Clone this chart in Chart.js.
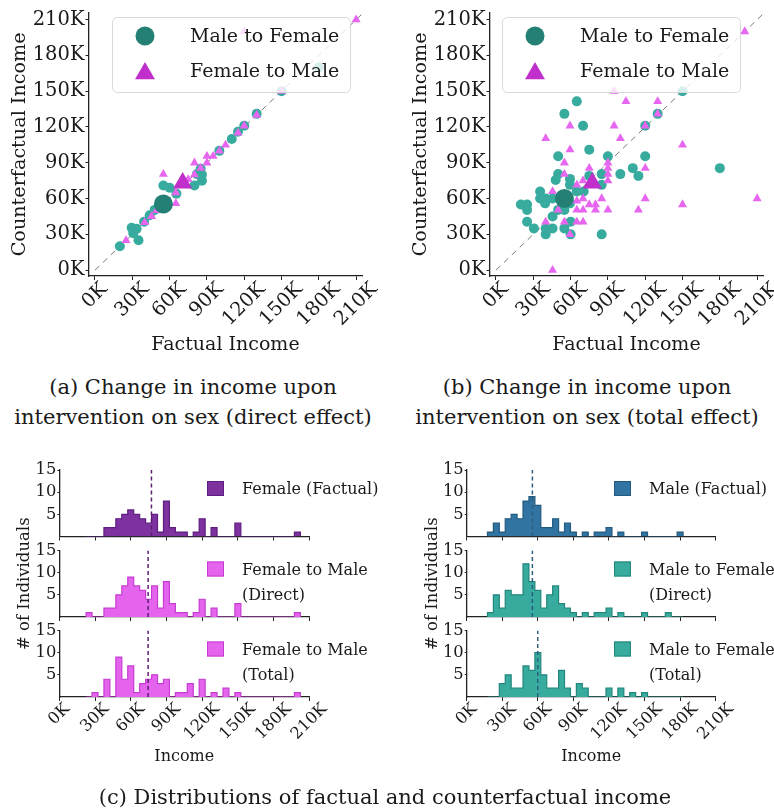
<!DOCTYPE html>
<html>
<head>
<meta charset="utf-8">
<title>Income under intervention on sex</title>
<script src="https://cdn.jsdelivr.net/npm/chart.js@4.4.1/dist/chart.umd.min.js"></script>
<style>
  html, body { margin: 0; padding: 0; background: #fff; }
  body { position: relative; width: 774px; height: 812px; overflow: hidden; font-family: "DejaVu Serif", "Liberation Serif", serif; color: #1a1a1a; }
  canvas { position: absolute; }
  .caption { position: absolute; text-align: center; font-size: 21px; line-height: 30px; white-space: nowrap; }
</style>
</head>
<body>
<canvas id="directScatter" width="390" height="365" style="left:0;top:0"></canvas>
<canvas id="totalScatter" width="384" height="365" style="left:390px;top:0"></canvas>
<div class="caption" style="left:0;top:372px;width:386px">(a) Change in income upon<br>intervention on sex (direct effect)</div>
<div class="caption" style="left:392px;top:372px;width:390px">(b) Change in income upon<br>intervention on sex (total effect)</div>

<canvas id="femaleFactual" width="390" height="340" style="left:0;top:440px"></canvas>
<canvas id="femaleDirect" width="390" height="340" style="left:0;top:440px"></canvas>
<canvas id="femaleTotal" width="390" height="340" style="left:0;top:440px"></canvas>
<canvas id="maleFactual" width="384" height="340" style="left:390px;top:440px"></canvas>
<canvas id="maleDirect" width="384" height="340" style="left:390px;top:440px"></canvas>
<canvas id="maleTotal" width="384" height="340" style="left:390px;top:440px"></canvas>
<div class="caption" style="left:0;top:782px;width:770px">(c) Distributions of factual and counterfactual income</div>

<script>
// all incomes in thousands
const incomeTicks = [0, 30, 60, 90, 120, 150, 180, 210];
const countTicks = [5, 10, 15];
const identityLine = [0, 216];
const scatterLegend = ['Male to Female', 'Female to Male'];

// (a) direct effect: [factual, counterfactual]
const directMaleToFemale = [[20,20],[29.5,35.5],[30.8,30.9],[33.5,34.7],[35,25],[39.5,40.5],[44,46],[48,50.5],[52,52],
  [55,71],[60,69],[65.5,64],[80,71],[82,80.5],[86,75],[85,85],[86,80],[100,100],[110,110],[115,116],[120,121],
  [130,131],[150,150],[180,170]];
const directFemaleToMale = [[25,25],[40,40],[45.5,45],[49.5,50],[55,52],[55,80.5],[65,56],[65,65],[75,76],[80,90],
  [80,80],[85,85.5],[90,90],[90,95.5],[95,95.5],[100,100],[105,105],[115,115],[120,121],[130,130],[120,200],
  [150,150],[210,210]];
const directMeanMaleToFemale = [55, 55.5];
const directMeanFemaleToMale = [70.5, 73];

// (b) total effect
const totalMaleToFemale = [[20,55],[25,55],[25,50.5],[25,40.5],[30.5,35],[35.5,66],[35.5,60],[39.5,56],[40,60],[40,35],
  [40,30],[45.5,35],[45.5,45],[45.5,60],[50,95.5],[50,80.5],[48,75.5],[50,50.5],[55,50.5],[55,131],[55,35],[59.5,56],
  [59.5,76.5],[59.5,71.5],[60,40.5],[60,30],[65,141.5],[65,66],[70,121],[70.5,66],[75,101],[75,79],[85,80.5],
  [85,71.5],[85,30],[90,95.5],[100,80.5],[110,85.5],[114.5,79],[120,121],[120,95.5],[130,131],[150,150],[180,85.5]];
const totalFemaleToMale = [[40,110.5],[40,40.5],[45.5,66],[45.5,0],[50,50.5],[55,90],[55,80.5],[55,40.5],[59.5,101],
  [59.5,121],[59.5,30],[65,71.5],[65,58],[65,50.5],[65,40.5],[70,75],[70,60],[70,50.5],[70,40.5],[75,85.5],[75,55],
  [80,55],[80,50.5],[85,60],[90,90],[90,85.5],[90,80.5],[90,75],[90,50.5],[95,150],[95,121],[100,110.5],
  [104.5,141.5],[114.5,50.5],[120,121],[120,85.5],[120,60],[130,141.5],[130,131],[150,105],[150,55],[200,200],[210,60]];
const totalMeanMaleToFemale = [55, 60];
const totalMeanFemaleToMale = [77.5, 73];

// (c) histograms, 5K bins given by their centres
const binWidth = 5;
const femaleBins = [25,30,35,40,45,50,55,60,65,70,75,80,85,90,95,100,105,110,115,120,125,130,135,140,145,150,
  155,160,165,170,175,180,185,190,195,200];
const femaleFactualCounts = [0,0,0,2,2,4,5,6,5,4,3,5,1,8,2,1,1,0,1,4,0,2,0,0,0,3,0,0,0,0,0,0,0,0,0,1];
const femaleDirectCounts  = [1,0,0,2,2,5,7,9,7,6,4,7,2,8,3,1,1,0,1,4,0,2,0,0,0,3,0,0,0,0,0,0,0,0,0,1];
const femaleTotalCounts   = [0,1,0,4,0,9,4,7,1,3,4,5,3,4,0,1,1,3,0,4,0,1,0,2,0,1,0,0,0,0,0,0,0,0,0,1];
const femaleMeans = [77.4, 74.6, 74.6];
const femaleLabels = [['Female (Factual)'], ['Female to Male', '(Direct)'], ['Female to Male', '(Total)']];

const maleBins = [20,25,30,35,40,45,50,55,60,65,70,75,80,85,90,95,100,105,110,115,120,125,130,135,140,145,150,
  155,160,165,170,175,180];
const maleFactualCounts = [1,3,1,4,5,4,8,9,7,2,2,4,1,3,1,0,1,0,1,1,2,0,1,0,0,0,1,0,0,0,0,0,1];
const maleDirectCounts  = [1,5,2,6,5,5,12,8,6,2,5,7,3,2,1,0,1,0,1,1,2,0,1,0,0,0,1,0,0,0,1,0,0];
const maleTotalCounts   = [0,0,3,5,2,2,7,6,10,5,2,2,6,2,0,3,2,0,0,0,2,0,2,0,1,0,1,0,0,0,0,0,0];
const maleMeans = [55.4, 55.4, 59.9];
const maleLabels = [['Male (Factual)'], ['Male to Female', '(Direct)'], ['Male to Female', '(Total)']];

const TEAL = '#38ab9f', DARK_TEAL = '#247f75', PINK = '#e766f0', DARK_PINK = '#c12fcb';
const INK = '#1a1a1a';
const SERIF = '"DejaVu Serif", "Liberation Serif", serif';

Chart.defaults.font.family = SERIF;
Chart.defaults.color = INK;

// x tick labels rotated 45 degrees and centred on the tick (matplotlib style)
const slantedTicks = {
  id: 'slantedTicks',
  afterDraw(chart, args, o) {
    if (!o.show) return;
    const sc = chart.scales.x, ctx = chart.ctx;
    ctx.save();
    ctx.font = o.size + 'px ' + SERIF;
    ctx.fillStyle = INK;
    ctx.textAlign = 'center';
    ctx.textBaseline = 'middle';
    sc.ticks.forEach(t => {
      const label = t.value + 'K';
      const w = ctx.measureText(label).width;
      const cy = sc.top + o.gap + (w + o.size * 0.75) * Math.SQRT1_2 / 2;
      ctx.save();
      ctx.translate(sc.getPixelForValue(t.value), cy);
      ctx.rotate(-Math.PI / 4);
      ctx.fillText(label, 0, 0);
      ctx.restore();
    });
    ctx.restore();
  }
};

// framed legend of the scatter plots
const scatterKey = {
  id: 'scatterKey',
  afterDatasetsDraw(chart, args, o) {
    if (!o.items) return;
    const ctx = chart.ctx;
    ctx.save();
    ctx.beginPath();
    ctx.roundRect(o.x + 0.5, o.y + 0.5, o.w, o.h, 5);
    ctx.fillStyle = 'rgba(255,255,255,0.8)';
    ctx.fill();
    ctx.strokeStyle = '#d8d8d8';
    ctx.lineWidth = 1;
    ctx.stroke();
    ctx.font = '19px ' + SERIF;
    ctx.textBaseline = 'middle';
    o.items.forEach((it, i) => {
      const cy = o.y + 19 + i * 35;
      ctx.fillStyle = it.color;
      Chart.helpers.drawPoint(ctx, { pointStyle: it.style, radius: it.r, borderWidth: 0, rotation: 0 }, o.x + 33, cy + it.dy);
      ctx.fillStyle = INK;
      ctx.fillText(it.text, o.x + 78, cy + 1);
    });
    ctx.restore();
  }
};

// one-entry legend of each histogram panel
const histKey = {
  id: 'histKey',
  afterDraw(chart, args, o) {
    if (!o.lines) return;
    const ctx = chart.ctx, top = chart.chartArea.top;
    ctx.save();
    ctx.fillStyle = o.fill;
    ctx.fillRect(o.x, top + 11, 17, 15);
    ctx.strokeStyle = o.edge;
    ctx.lineWidth = 1;
    ctx.strokeRect(o.x + 0.5, top + 11.5, 16, 14);
    ctx.font = '16px ' + SERIF;
    ctx.fillStyle = INK;
    ctx.textBaseline = 'middle';
    o.lines.forEach((t, i) => ctx.fillText(t, o.x + 35, top + 20 + i * 25));
    ctx.restore();
  }
};

Chart.register(slantedTicks, scatterKey, histKey);

const spine = { display: true, color: '#222', width: 1.3 };
const tickMarks = { display: true, drawOnChartArea: false, drawTicks: true, tickLength: 4, color: '#222', lineWidth: 1 };
const toPoints = arr => arr.map(p => ({ x: p[0], y: p[1] }));

function scatterChart(id, maleToFemale, femaleToMale, meanM2F, meanF2M, lay) {
  return new Chart(document.getElementById(id), {
    type: 'scatter',
    data: {
      datasets: [
        { data: [{ x: meanM2F[0], y: meanM2F[1] }], pointStyle: 'circle', pointRadius: 9.5,
          pointBackgroundColor: DARK_TEAL, pointBorderWidth: 0, order: 0 },
        { data: [{ x: meanF2M[0], y: meanF2M[1] }], pointStyle: 'triangle', pointRadius: 11,
          pointBackgroundColor: DARK_PINK, pointBorderWidth: 0, order: 1 },
        { data: toPoints(femaleToMale), pointStyle: 'triangle', pointRadius: 5.2,
          pointBackgroundColor: PINK, pointBorderWidth: 0, order: 2 },
        { data: toPoints(maleToFemale), pointStyle: 'circle', pointRadius: 5,
          pointBackgroundColor: TEAL, pointBorderWidth: 0, order: 3 },
        { data: identityLine.map(v => ({ x: v, y: v })), showLine: true, pointRadius: 0,
          borderColor: '#7a7a7a', borderWidth: 1, borderDash: [6, 5], order: 4 }
      ]
    },
    options: {
      responsive: false, animation: false, events: [], devicePixelRatio: 1,
      layout: { padding: { top: 7, right: lay.padRight, bottom: 7, left: 0 } },
      plugins: {
        legend: { display: false }, tooltip: { enabled: false },
        slantedTicks: { show: true, size: 19.5, gap: 5 },
        scatterKey: { x: 112, y: 17, w: 238, h: 75, items: [
          { text: scatterLegend[0], style: 'circle', r: 9.5, dy: 0, color: DARK_TEAL },
          { text: scatterLegend[1], style: 'triangle', r: 11.5, dy: 2.5, color: DARK_PINK }
        ] }
      },
      scales: {
        x: {
          type: 'linear', min: -4.8, max: 214.7,
          afterBuildTicks: s => { s.ticks = incomeTicks.map(v => ({ value: v })); },
          afterFit: s => { s.height = 82; },
          ticks: { display: false },
          grid: tickMarks, border: spine,
          title: { display: true, text: 'Factual Income', font: { size: 19 }, padding: { top: 0, bottom: 2 }, color: INK }
        },
        y: {
          type: 'linear', min: -4.9, max: 215.8,
          afterBuildTicks: s => { s.ticks = incomeTicks.map(v => ({ value: v })); },
          afterFit: s => { s.width = lay.yWidth; },
          ticks: { font: { size: 19.5 }, padding: 1, callback: v => v + 'K' },
          grid: Object.assign({}, tickMarks, { tickLength: 3.5 }), border: spine,
          title: { display: true, text: 'Counterfactual Income', font: { size: 19.2 }, padding: { top: lay.titlePad, bottom: 0 }, color: INK }
        }
      }
    }
  });
}

scatterChart('directScatter', directMaleToFemale, directFemaleToMale, directMeanMaleToFemale, directMeanFemaleToMale,
  { padRight: 28, yWidth: 89, titlePad: 8.5 });
scatterChart('totalScatter', totalMaleToFemale, totalFemaleToMale, totalMeanMaleToFemale, totalMeanFemaleToMale,
  { padRight: 11, yWidth: 100, titlePad: 19.5 });

const panelTops = [30, 110.5, 190.5];
const panelBottoms = [96.5, 177, 257];

function histPanel(id, row, bins, counts, mean, labels, look) {
  const pts = [{ x: bins[0] - binWidth / 2, y: 0 }];
  bins.forEach((c, i) => pts.push({ x: c - binWidth / 2, y: counts[i] }));
  pts.push({ x: bins[bins.length - 1] + binWidth / 2, y: 0 });
  const last = row === 2;
  const xHeight = last ? 70 : 8;
  return new Chart(document.getElementById(id), {
    type: 'line',
    data: {
      datasets: [
        { data: [{ x: mean, y: 0 }, { x: mean, y: 15 }], borderColor: look.meanColor, borderWidth: 1.5,
          borderDash: [4, 3], pointRadius: 0, order: 0 },
        { data: pts, stepped: 'before', fill: 'origin', backgroundColor: look.fill, borderColor: look.edge,
          borderWidth: 1.2, pointRadius: 0, order: 1 }
      ]
    },
    options: {
      responsive: false, animation: false, events: [], devicePixelRatio: 1,
      layout: { padding: { top: panelTops[row], bottom: 340 - panelBottoms[row] - xHeight, left: 0, right: look.padRight } },
      plugins: {
        legend: { display: false }, tooltip: { enabled: false },
        slantedTicks: { show: last, size: 16.3, gap: 5 },
        histKey: { x: look.keyX, lines: labels, fill: look.fill, edge: look.edge }
      },
      scales: {
        x: {
          type: 'linear', min: 0, max: 210,
          afterBuildTicks: s => { s.ticks = incomeTicks.map(v => ({ value: v })); },
          afterFit: s => { s.height = xHeight; },
          ticks: { display: false },
          grid: tickMarks, border: spine,
          title: { display: last, text: 'Income', font: { size: 16 }, padding: { top: 0, bottom: 1 }, color: INK }
        },
        y: {
          type: 'linear', min: 0, max: 15,
          afterBuildTicks: s => { s.ticks = countTicks.map(v => ({ value: v })); },
          afterFit: s => { s.width = look.yWidth; },
          ticks: { font: { size: 16.3 }, padding: 1 },
          grid: Object.assign({}, tickMarks, { tickLength: 2 }), border: spine,
          title: { display: row === 1, text: '# of Individuals', font: { size: 16.5 }, padding: { top: look.titlePad, bottom: 0 }, color: INK }
        }
      }
    }
  });
}

const femaleFactualLook = { fill: '#7d32a0', edge: '#5e1d80', meanColor: '#5b1f70', padRight: 80.7, yWidth: 59.3, keyX: 207, titlePad: 15 };
const femaleCfLook = { fill: '#e564ee', edge: '#c63cd2', meanColor: '#5b1f70', padRight: 80.7, yWidth: 59.3, keyX: 207, titlePad: 15 };
const maleFactualLook = { fill: '#3274a1', edge: '#235a80', meanColor: '#2b5d80', padRight: 58.3, yWidth: 76.7, keyX: 224, titlePad: 33 };
const maleCfLook = { fill: '#38ab9f', edge: '#23877c', meanColor: '#2b5d80', padRight: 58.3, yWidth: 76.7, keyX: 224, titlePad: 33 };

histPanel('femaleFactual', 0, femaleBins, femaleFactualCounts, femaleMeans[0], femaleLabels[0], femaleFactualLook);
histPanel('femaleDirect', 1, femaleBins, femaleDirectCounts, femaleMeans[1], femaleLabels[1], femaleCfLook);
histPanel('femaleTotal', 2, femaleBins, femaleTotalCounts, femaleMeans[2], femaleLabels[2], femaleCfLook);
histPanel('maleFactual', 0, maleBins, maleFactualCounts, maleMeans[0], maleLabels[0], maleFactualLook);
histPanel('maleDirect', 1, maleBins, maleDirectCounts, maleMeans[1], maleLabels[1], maleCfLook);
histPanel('maleTotal', 2, maleBins, maleTotalCounts, maleMeans[2], maleLabels[2], maleCfLook);
</script>
</body>
</html>
